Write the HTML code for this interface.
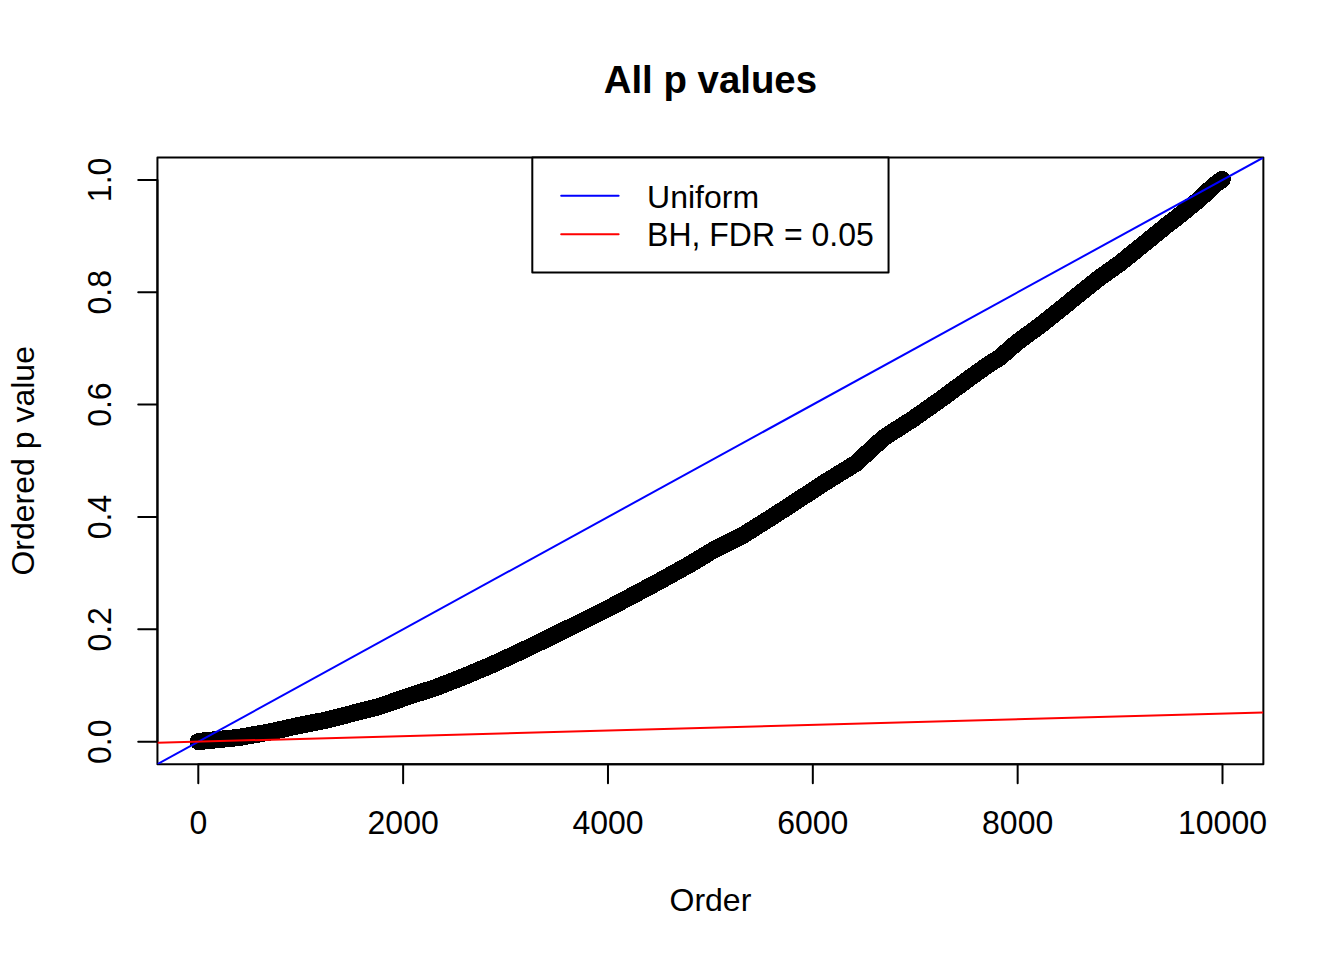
<!DOCTYPE html>
<html><head><meta charset="utf-8"><title>All p values</title>
<style>
html,body{margin:0;padding:0;background:#fff;}
body{width:1344px;height:960px;overflow:hidden;}
svg{display:block;}
text{font-family:"Liberation Sans", Arial, Helvetica, sans-serif;fill:#000;}
</style></head><body>
<svg width="1344" height="960" viewBox="0 0 1344 960">
<rect x="0" y="0" width="1344" height="960" fill="#fff"/>
<defs><clipPath id="pr"><rect x="157.44" y="157.44" width="1105.92" height="606.72"/></clipPath></defs>
<path d="M198.4,741.5 L238.0,737.6 L271.3,731.7 L296.0,726.1 L324.0,720.6 L352.0,713.5 L379.3,706.5 L408.0,696.5 L436.0,687.5 L464.0,676.5 L491.3,665.0 L519.7,651.9 L548.0,638.3 L576.0,624.4 L603.3,611.0 L631.7,596.0 L660.0,580.9 L688.0,565.4 L715.3,549.0 L743.7,534.8 L772.0,517.0 L800.0,498.8 L827.3,481.0 L855.7,463.5 L884.0,437.5 L912.0,419.6 L939.3,400.4 L967.7,379.5 L988.0,365.0 L1000.0,357.3 L1016.0,343.3 L1043.3,323.0 L1075.0,297.5 L1100.0,277.5 L1120.0,263.2 L1143.3,244.4 L1168.3,224.0 L1177.2,217.3 L1199.5,199.2 L1214.4,185.0 L1222.2,179.5" fill="none" stroke="#000" stroke-width="17.2" stroke-linecap="round" stroke-linejoin="round" shape-rendering="crispEdges"/>

<rect x="157.44" y="157.44" width="1105.92" height="606.72" fill="none" stroke="#000" stroke-width="2" stroke-linejoin="round"/>
<path d="M198.30,764.16 H1222.50 M198.30,764.16 v19.2 M403.14,764.16 v19.2 M607.98,764.16 v19.2 M812.82,764.16 v19.2 M1017.66,764.16 v19.2 M1222.50,764.16 v19.2" stroke="#000" stroke-width="2" stroke-linecap="round" fill="none"/>
<text transform="translate(198.30,834) scale(1,1.045)" font-size="32" text-anchor="middle">0</text>
<text transform="translate(403.14,834) scale(1,1.045)" font-size="32" text-anchor="middle">2000</text>
<text transform="translate(607.98,834) scale(1,1.045)" font-size="32" text-anchor="middle">4000</text>
<text transform="translate(812.82,834) scale(1,1.045)" font-size="32" text-anchor="middle">6000</text>
<text transform="translate(1017.66,834) scale(1,1.045)" font-size="32" text-anchor="middle">8000</text>
<text transform="translate(1222.50,834) scale(1,1.045)" font-size="32" text-anchor="middle">10000</text>
<path d="M157.44,741.69 V179.91 M157.44,741.69 h-19.2 M157.44,629.33 h-19.2 M157.44,516.98 h-19.2 M157.44,404.62 h-19.2 M157.44,292.27 h-19.2 M157.44,179.91 h-19.2" stroke="#000" stroke-width="2" stroke-linecap="round" fill="none"/>
<text transform="translate(111.2,741.69) rotate(-90) scale(1,1.045)" font-size="32" text-anchor="middle">0.0</text>
<text transform="translate(111.2,629.33) rotate(-90) scale(1,1.045)" font-size="32" text-anchor="middle">0.2</text>
<text transform="translate(111.2,516.98) rotate(-90) scale(1,1.045)" font-size="32" text-anchor="middle">0.4</text>
<text transform="translate(111.2,404.62) rotate(-90) scale(1,1.045)" font-size="32" text-anchor="middle">0.6</text>
<text transform="translate(111.2,292.27) rotate(-90) scale(1,1.045)" font-size="32" text-anchor="middle">0.8</text>
<text transform="translate(111.2,179.91) rotate(-90) scale(1,1.045)" font-size="32" text-anchor="middle">1.0</text>
<g clip-path="url(#pr)"><line x1="157.44" y1="764.10" x2="1263.36" y2="157.50" stroke="#0000ff" stroke-width="2"/>
<line x1="157.44" y1="742.81" x2="1263.36" y2="712.48" stroke="#ff0000" stroke-width="2"/></g>
<text x="710.4" y="93.2" font-size="38.4" font-weight="bold" text-anchor="middle">All p values</text>
<text x="710.4" y="910.7" font-size="32" text-anchor="middle">Order</text>
<text transform="translate(33.8,460.80) rotate(-90)" font-size="32" text-anchor="middle">Ordered p value</text>
<path d="M532.3,157.44 H888.55 V272.5 H532.3 Z" fill="#fff" stroke="#000" stroke-width="2" stroke-linejoin="round"/>
<line x1="561.2" y1="195.8" x2="618.6" y2="195.8" stroke="#0000ff" stroke-width="2" stroke-linecap="round"/>
<line x1="561.2" y1="234.2" x2="618.6" y2="234.2" stroke="#ff0000" stroke-width="2" stroke-linecap="round"/>
<text x="647.1" y="207.6" font-size="32">Uniform</text>
<text transform="translate(647.1,246.2) scale(1,1.045)" font-size="32">BH, FDR = 0.05</text>
</svg></body></html>
